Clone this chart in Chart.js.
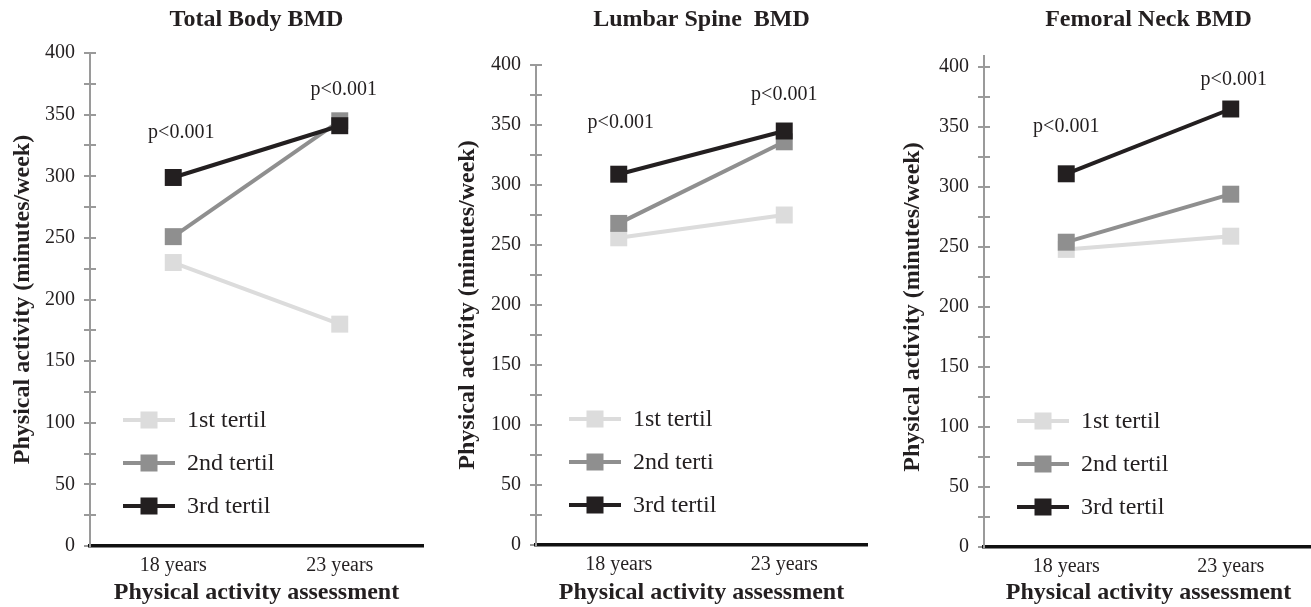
<!DOCTYPE html>
<html>
<head>
<meta charset="utf-8">
<script src="https://cdn.jsdelivr.net/npm/chart.js@4.4.0/dist/chart.umd.min.js"></script>
<style>
  html, body { margin: 0; padding: 0; background: #fff; overflow: hidden; }
  #wrap { position: relative; width: 1311px; height: 607px; overflow: hidden; }
  canvas { position: absolute; top: 0; }
</style>
</head>
<body>
<div id="wrap">
  <canvas id="c1" width="440" height="607" style="left:0px"></canvas>
  <canvas id="c2" width="440" height="607" style="left:440px"></canvas>
  <canvas id="c3" width="445" height="607" style="left:880px"></canvas>
</div>
<script>
// --- data ---
const assessments = ['18 years', '23 years'];
const yTickValues = [0, 25, 50, 75, 100, 125, 150, 175, 200, 225, 250, 275, 300, 325, 350, 375, 400];

const totalBody1st = [230, 180];
const totalBody2nd = [251, 345];
const totalBody3rd = [299, 341];

const lumbar1st = [256, 275];
const lumbar2nd = [268, 336];
const lumbar3rd = [309, 345];

const femoral1st = [248, 259];
const femoral2nd = [254, 294];
const femoral3rd = [311, 365];

const pValues = ['p<0.001', 'p<0.001'];
const legendTotal = ['1st tertil', '2nd tertil', '3rd tertil'];
const legendLumbar = ['1st tertil', '2nd terti', '3rd tertil'];  // typo is in the original
const legendFemoral = ['1st tertil', '2nd tertil', '3rd tertil'];

// --- styling ---
const SERIF = '"Liberation Serif", "Times New Roman", serif';
const ink = '#231f20';
const axisGrey = '#9a9a9a';
const tertilColors = ['#dcdcdc', '#8f8f8f', '#231f20'];

Chart.defaults.font.family = SERIF;
Chart.defaults.color = ink;

// draws inward tick marks, p-value notes and the in-plot legend
const overlay = {
  id: 'overlay',
  afterDraw(chart, args, opts) {
    const { ctx, chartArea, scales: { x, y } } = chart;
    ctx.save();

    ctx.strokeStyle = axisGrey;
    ctx.lineWidth = 2;
    y.ticks.forEach(t => {
      if (t.value === 0) return;
      const py = Math.round(y.getPixelForValue(t.value));
      ctx.beginPath();
      ctx.moveTo(chartArea.left, py);
      ctx.lineTo(chartArea.left + 6, py);
      ctx.stroke();
    });
    if (opts.ext) {
      ctx.beginPath();
      ctx.moveTo(chartArea.left, chartArea.top);
      ctx.lineTo(chartArea.left, chartArea.top - opts.ext);
      ctx.stroke();
    }

    ctx.font = '20px ' + SERIF;
    ctx.fillStyle = ink;
    ctx.textAlign = 'center';
    ctx.textBaseline = 'middle';
    opts.pText.forEach((txt, i) => {
      ctx.fillText(txt, x.getPixelForValue(i) + opts.pShift[i], y.getPixelForValue(opts.pAt[i]));
    });

    // legend
    const lx = chartArea.left + 33;
    const rows = [126, 83, 40];
    ctx.font = '24px ' + SERIF;
    ctx.textAlign = 'left';
    chart.data.datasets.forEach((ds, i) => {
      const ly = chartArea.bottom - rows[i];
      ctx.strokeStyle = ds.borderColor;
      ctx.lineWidth = 4;
      ctx.beginPath();
      ctx.moveTo(lx, ly);
      ctx.lineTo(lx + 52, ly);
      ctx.stroke();
      ctx.fillStyle = ds.borderColor;
      ctx.fillRect(lx + 26 - 8.5, ly - 8.5, 17, 17);
      ctx.fillStyle = ink;
      ctx.fillText(ds.label, lx + 64, ly + 1);
    });
    ctx.restore();
  }
};

function makeDataset(label, data, idx) {
  return {
    label: label,
    data: data,
    borderColor: tertilColors[idx],
    backgroundColor: tertilColors[idx],
    borderWidth: 4,
    pointStyle: 'rect',
    pointRadius: 12,
    pointHoverRadius: 12,
    pointBorderWidth: 0,
    order: 3 - idx,
    clip: false
  };
}

function makePanel(id, title, labels, s1, s2, s3, lay) {
  const ctx = document.getElementById(id).getContext('2d');
  return new Chart(ctx, {
    type: 'line',
    data: {
      labels: assessments,
      datasets: [
        makeDataset(labels[0], s1, 0),
        makeDataset(labels[1], s2, 1),
        makeDataset(labels[2], s3, 2)
      ]
    },
    options: {
      responsive: false,
      animation: false,
      devicePixelRatio: 1,
      layout: { padding: { left: 0, right: lay.right, top: 0, bottom: 0 } },
      plugins: {
        legend: { display: false },
        tooltip: { enabled: false },
        title: {
          display: true,
          text: title,
          fullSize: false,
          color: ink,
          font: { size: 24, weight: 'bold', family: SERIF },
          padding: { top: 5, bottom: lay.top - 5 - 28.8 }
        },
        overlay: { pText: pValues, pAt: lay.pAt, pShift: lay.pShift, ext: lay.ext || 0 }
      },
      scales: {
        x: {
          offset: true,
          grid: { display: false },
          border: { display: true, color: '#111', width: 3.5 },
          ticks: { color: ink, font: { size: 20, family: SERIF }, padding: 0 },
          title: {
            display: true,
            text: 'Physical activity assessment',
            color: ink,
            font: { size: 24, weight: 'bold', family: SERIF },
            padding: { top: 0, bottom: 0 }
          },
          afterFit(scale) { scale.height = lay.xh; }
        },
        y: {
          min: 0,
          max: 400,
          afterBuildTicks(scale) { scale.ticks = yTickValues.map(v => ({ value: v })); },
          grid: { display: true, drawOnChartArea: false, drawTicks: true, tickLength: 6, color: axisGrey, lineWidth: 2 },
          border: { display: true, color: axisGrey, width: 2 },
          ticks: {
            color: ink,
            font: { size: 20, family: SERIF },
            padding: 9,
            callback: v => (v % 50 === 0 ? String(v) : '')
          },
          title: {
            display: true,
            text: 'Physical activity (minutes/week)',
            color: ink,
            font: { size: 24, weight: 'bold', family: SERIF },
            padding: { top: lay.ytp, bottom: 0 }
          },
          afterFit(scale) { scale.width = lay.yw; }
        }
      }
    },
    plugins: [overlay]
  });
}

makePanel('c1', 'Total Body BMD', legendTotal, totalBody1st, totalBody2nd, totalBody3rd,
  { right: 17, top: 53, xh: 61, yw: 90, ytp: 8, pAt: [335, 370], pShift: [8, 4] });
makePanel('c2', 'Lumbar Spine  BMD', legendLumbar, lumbar1st, lumbar2nd, lumbar3rd,
  { right: 13, top: 65, xh: 62, yw: 96, ytp: 13, pAt: [352, 375], pShift: [2, 0] });
makePanel('c3', 'Femoral Neck BMD', legendFemoral, femoral1st, femoral2nd, femoral3rd,
  { right: 0, top: 67, xh: 60, yw: 104, ytp: 18, pAt: [350, 389], pShift: [0, 3], ext: 12 });
</script>
</body>
</html>
